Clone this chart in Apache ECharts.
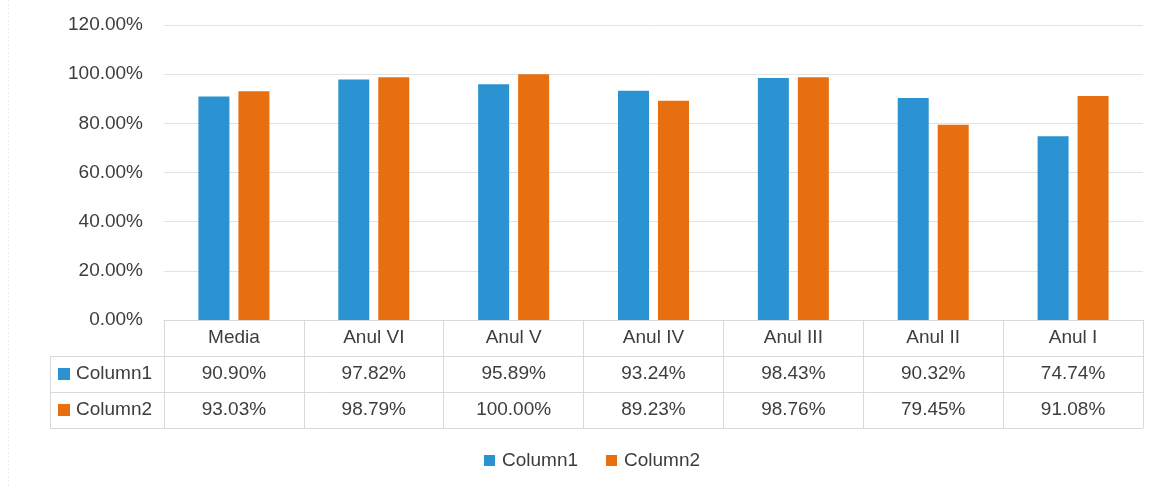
<!DOCTYPE html>
<html><head><meta charset="utf-8">
<script src="https://cdn.jsdelivr.net/npm/echarts@6/dist/echarts.min.js"></script>
<style>html,body{margin:0;padding:0;background:#fff}#c{width:1155px;height:488px}</style>
</head><body><div id="c"></div>
<script>
const categories = ['Media','Anul VI','Anul V','Anul IV','Anul III','Anul II','Anul I'];
const seriesNames = ['Column1','Column2'];
const column1 = [90.90, 97.82, 95.89, 93.24, 98.43, 90.32, 74.74];
const column2 = [93.03, 98.79, 100.00, 89.23, 98.76, 79.45, 91.08];
const colors = ['#2b93d1','#e76f0f'];
const yTicks = {min: 0, max: 120, interval: 20};

const FONT = 'Liberation Sans';
const TXT = '#3d3d3d';
const LINE = '#d9d9d9';
const ROW_H = 36;
const fmt = v => v.toFixed(2) + '%';

const chart = echarts.init(document.getElementById('c'), null, {renderer: 'canvas'});
const GRID = {left: 164, right: 12, top: 25, bottom: 168};

chart.setOption({
  animation: false,
  textStyle: {fontFamily: FONT},
  color: colors,
  grid: GRID,
  legend: [
    {
      data: seriesNames, top: 451, left: 484, itemWidth: 11, itemHeight: 11, itemGap: 28, padding: 0,
      icon: 'rect', textStyle: {fontSize: 19, color: TXT, fontFamily: FONT, padding: [0, 0, 0, 2]}, selectedMode: false
    },
    {
      data: seriesNames, orient: 'vertical', left: 58, top: 356, itemWidth: 12, itemHeight: 12,
      itemGap: 0, padding: 0, icon: 'rect', selectedMode: false,
      textStyle: {fontSize: 19, color: TXT, fontFamily: FONT, lineHeight: ROW_H, height: ROW_H, padding: [0,0,0,1]}
    }
  ],
  xAxis: {
    type: 'category', data: categories,
    axisLine: {show: true, lineStyle: {color: LINE, width: 1}},
    axisTick: {show: true, length: ROW_H * 3, alignWithLabel: false, lineStyle: {color: LINE}},
    axisLabel: {
      margin: 0, interval: 0, color: TXT, fontSize: 19, fontFamily: FONT,
      formatter: (val, i) => '{h|' + val + '}\n{v|' + fmt(column1[i]) + '}\n{v|' + fmt(column2[i]) + '}',
      rich: {
        h: {fontSize: 19, lineHeight: ROW_H, color: TXT, fontFamily: FONT},
        v: {fontSize: 19, lineHeight: ROW_H, color: TXT, fontFamily: FONT}
      }
    }
  },
  yAxis: {
    type: 'value', min: yTicks.min, max: yTicks.max, interval: yTicks.interval,
    axisLine: {show: false}, axisTick: {show: false},
    splitLine: {lineStyle: {color: '#e3e3e3'}},
    axisLabel: {margin: 21, color: TXT, fontSize: 19, fontFamily: FONT, formatter: v => v.toFixed(2) + '%'}
  },
  series: [
    {name: seriesNames[0], type: 'bar', data: column1, barWidth: 31, barGap: '29%'},
    {name: seriesNames[1], type: 'bar', data: column2, barWidth: 31, barGap: '29%'}
  ]
});

// table borders derived from the grid / axis positions
const y0 = chart.convertToPixel({yAxisIndex: 0}, 0);
const xR = 1155 - GRID.right;
const xL = 50;
const els = [];
for (let r = 1; r <= 3; r++) {
  const y = Math.round(y0 + r * ROW_H) + 0.5;
  els.push({type: 'line', shape: {x1: xL, y1: y, x2: xR, y2: y}, style: {stroke: LINE, lineWidth: 1}, silent: true});
}
els.push({type: 'line', shape: {x1: xL + 0.5, y1: Math.round(y0 + ROW_H) + 0.5, x2: xL + 0.5, y2: Math.round(y0 + 3 * ROW_H) + 0.5}, style: {stroke: LINE, lineWidth: 1}, silent: true});
els.push({type: 'line', shape: {x1: 8.5, y1: 0, x2: 8.5, y2: 488}, style: {stroke: '#eeeeee', lineWidth: 1, lineDash: [2, 2]}, silent: true});
chart.setOption({graphic: els});
</script>
</body></html>
